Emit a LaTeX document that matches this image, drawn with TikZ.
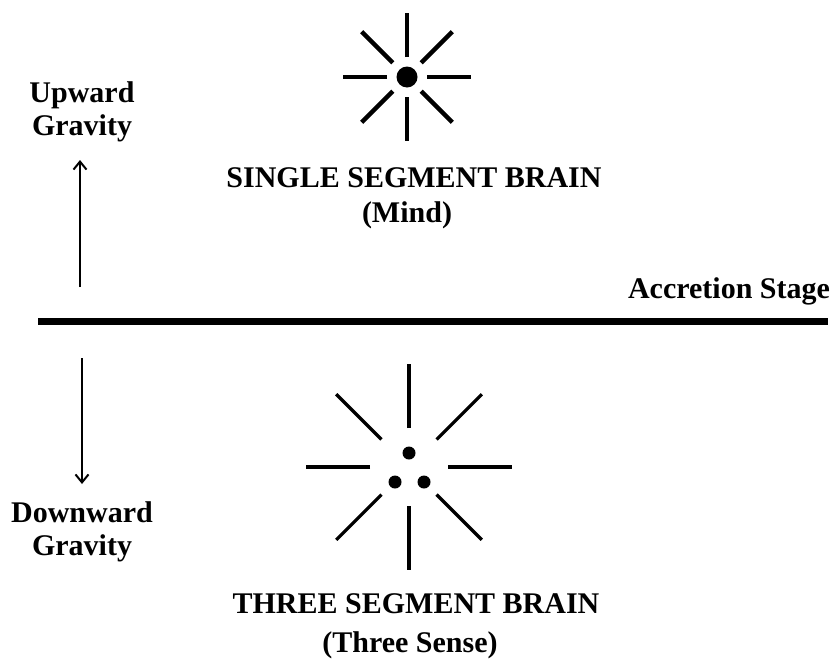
\documentclass[tikz,border=0pt]{standalone}
\usepackage{fontspec}
\setmainfont{Liberation Serif}
\usetikzlibrary{arrows.meta}
\tikzset{
  lbl/.style={font=\fontsize{30}{34}\selectfont\bfseries, inner sep=0pt, anchor=base},
  ray/.style={line width=4.5pt},
  gravarrow/.style={line width=2pt, -{Straight Barb[length=8pt,width=13pt]}},
}
\begin{document}
\begin{tikzpicture}[x=1pt,y=-1pt]
	\useasboundingbox (0,0) rectangle (834,659);

	% single segment brain
	\coordinate (mind) at (407,77);
	\fill (mind) circle [radius=10.5];
	\foreach \a in {0,45,...,315}
	  \draw[ray, shift=(mind)] (\a:20) -- (\a:64);
	\node[lbl] (single) at (414,187) {SINGLE SEGMENT BRAIN};
	\node[lbl] (mindtxt) at (407,222) {(Mind)};

	% accretion line
	\draw[line width=7pt] (38,321) -- (828,321);
	\node[lbl] (accretion) at (729,298) {Accretion Stage};

	% gravity
	\node[lbl] (upward) at (82,102) {Upward};
	\node[lbl] (upgrav) at (82,135) {Gravity};
	\coordinate (upfoot) at (80,287);
	\coordinate (uptip) at (80,160);
	\draw[gravarrow] (upfoot) -- (uptip);

	\coordinate (downtop) at (82,358);
	\coordinate (downtip) at (82,484);
	\draw[gravarrow] (downtop) -- (downtip);
	\node[lbl] (downward) at (82,522) {Downward};
	\node[lbl] (downgrav) at (82,555) {Gravity};

	% three segment brain
	\coordinate (three) at (409,467);
	\fill (409,453) circle [radius=6.5];
	\fill (395,482) circle [radius=6.5];
	\fill (424,482) circle [radius=6.5];
	\foreach \a in {0,45,...,315}
	  \draw[ray, line width=3.2pt, shift=(three)] (\a:39) -- (\a:103);
	\node[lbl] (threetxt) at (416,613) {THREE SEGMENT BRAIN};
	\node[lbl] (sense) at (410,652) {(Three Sense)};
\end{tikzpicture}
\end{document}
